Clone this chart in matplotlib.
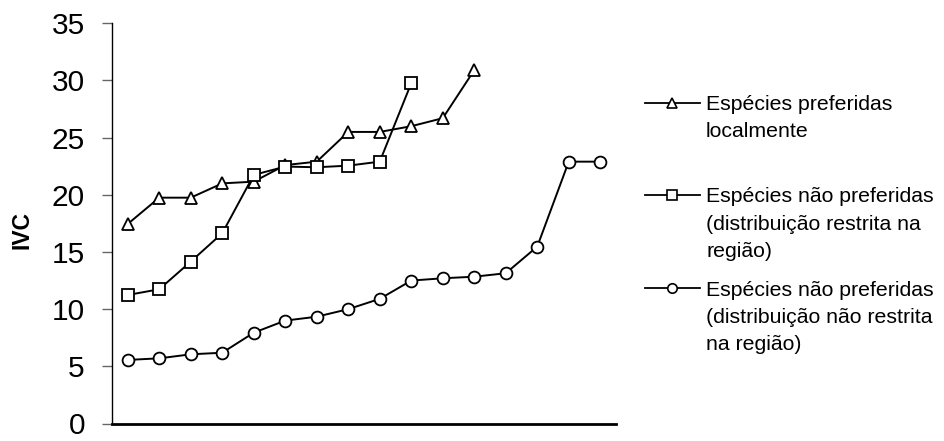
import matplotlib
matplotlib.use("Agg")
import matplotlib.pyplot as plt
from matplotlib.lines import Line2D
import numpy as np

plt.rcParams['font.family'] = ['Liberation Sans', 'DejaVu Sans']

# Data (IVC values, species ranked along x)
preferidas = [17.45, 19.75, 19.75, 21.0, 21.15, 22.6, 22.9, 25.5, 25.5, 26.0, 26.7, 30.9]
nao_pref_restrita = [11.24, 11.74, 14.16, 16.64, 21.74, 22.47, 22.41, 22.55, 22.9, 29.76]
nao_pref_nao_restrita = [5.56, 5.7, 6.05, 6.19, 7.94, 9.0, 9.34, 10.0, 10.9, 12.5,
                         12.7, 12.84, 13.14, 15.47, 22.9, 22.9]
labels = [["Espécies preferidas", "localmente"],
          ["Espécies não preferidas", "(distribuição restrita na", "região)"],
          ["Espécies não preferidas", "(distribuição não restrita", "na região)"]]
markers = ['^', 's', 'o']
yticks = [0, 5, 10, 15, 20, 25, 30, 35]

W, H = 944, 441
fig = plt.figure(figsize=(W / 100, H / 100), dpi=100)
ax = fig.add_axes([112 / W, 1 - 423.5 / H, (616 - 112) / W, (423.5 - 23.3) / H])

series = [preferidas, nao_pref_restrita, nao_pref_nao_restrita]
for vals, m in zip(series, markers):
    x = np.arange(1, len(vals) + 1)
    ax.plot(x, vals, color='black', lw=1.4, marker=m, markersize=8.5,
            markerfacecolor='white', markeredgecolor='black', markeredgewidth=1.3,
            clip_on=False, zorder=3)

ax.set_xlim(0.5, 16.5)
ax.set_ylim(0, 35)
ax.set_yticks(yticks)
ax.set_yticklabels([str(t) for t in yticks], fontsize=21.5)
ax.set_xticks([])
ax.tick_params(axis='y', direction='out', length=7, width=1, color='#666666', pad=12.5)
for s in ['top', 'right']:
    ax.spines[s].set_visible(False)
ax.spines['left'].set_linewidth(1.0)
ax.spines['bottom'].set_linewidth(2.0)
ax.spines['bottom'].set_zorder(4)

fig.text(21.5 / W, 1 - 230 / H, "IVC", rotation=90, fontsize=16.5, fontweight='bold',
         ha='center', va='center')

# Manual legend (handle aligned to first text line)
legend_y = [102.7, 195, 288.3]
line_gap = 27.3
for m, lab, ly in zip(markers, labels, legend_y):
    yf = 1 - ly / H
    fig.add_artist(Line2D([645 / W, 700 / W], [yf, yf], color='black', lw=1.3,
                          transform=fig.transFigure))
    fig.add_artist(Line2D([672 / W], [yf], marker=m, markersize=6.8,
                          markerfacecolor='white', markeredgecolor='black',
                          markeredgewidth=1.2, transform=fig.transFigure))
    for i, line in enumerate(lab):
        base = ly + 7.3 + i * line_gap
        fig.text(706 / W, 1 - base / H, line, fontsize=15.3, ha='left', va='baseline')

fig.savefig("out.png", dpi=100)
